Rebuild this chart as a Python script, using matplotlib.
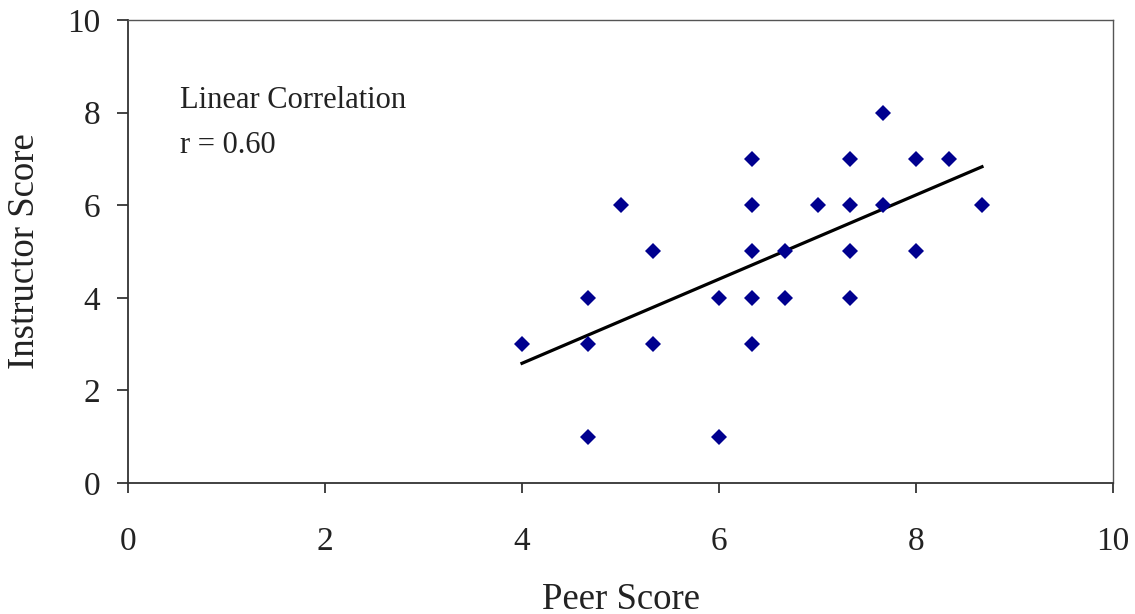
import numpy as np
import matplotlib
matplotlib.use("Agg")
import matplotlib.pyplot as plt

peer = [4.0, 4.67, 4.67, 4.67, 5.0, 5.33, 5.33, 6.0, 6.0,
        6.33, 6.33, 6.33, 6.33, 6.33, 6.67, 6.67, 7.0,
        7.33, 7.33, 7.33, 7.33, 7.67, 7.67, 8.0, 8.0, 8.33, 8.67]
instructor = [3, 4, 3, 1, 6, 5, 3, 4, 1,
              7, 6, 5, 4, 3, 5, 4, 6,
              7, 6, 5, 4, 8, 6, 7, 5, 7, 6]
x_ticks = [0, 2, 4, 6, 8, 10]
y_ticks = [0, 2, 4, 6, 8, 10]
annotation_lines = ["Linear Correlation", "r = 0.60"]

plt.rcParams['font.family'] = ['Liberation Serif', 'DejaVu Serif']

fig = plt.figure(figsize=(11.35, 6.14), dpi=100)
ax = fig.add_axes([128/1135, 1-483/614, (1113-128)/1135, (483-20)/614])

px = np.array(peer)
py = np.array(instructor)
m, b = np.polyfit(px, py, 1)
xl = np.array([px.min(), px.max()])
ax.plot(xl, m*xl + b, color='black', lw=2.3, zorder=2)
ax.plot(px, py, linestyle='none', marker='D', markersize=8.5,
        color='#00008f', markeredgewidth=0, zorder=3)

ax.set_xlim(0, 10)
ax.set_ylim(0, 10)
ax.set_xticks(x_ticks)
ax.set_yticks(y_ticks)
ax.tick_params(axis='x', direction='out', length=7, width=1.2, pad=24,
               labelsize=24, colors='#222222')
ax.tick_params(axis='y', direction='out', length=8, width=1.2, pad=12,
               labelsize=24, colors='#222222')
for s in ['left', 'bottom']:
    ax.spines[s].set_linewidth(1.3)
    ax.spines[s].set_color('#333333')
for s in ['top', 'right']:
    ax.spines[s].set_linewidth(1.0)
    ax.spines[s].set_color('#555555')

ax.set_xlabel("Peer Score", fontsize=26.5, color='#222222')
ax.set_ylabel("Instructor Score", fontsize=26.5, color='#222222')
ax.xaxis.set_label_coords(0.5, -0.253)
ax.yaxis.set_label_coords(-0.1046, 0.5)
ax.xaxis.label.set_va('center')
ax.yaxis.label.set_va('center')

ax.text(0.53, 8.1, annotation_lines[0], fontsize=22, color='#222222', va='baseline')
ax.text(0.53, 7.13, annotation_lines[1], fontsize=22, color='#222222', va='baseline')

fig.savefig("out.png", dpi=100)
